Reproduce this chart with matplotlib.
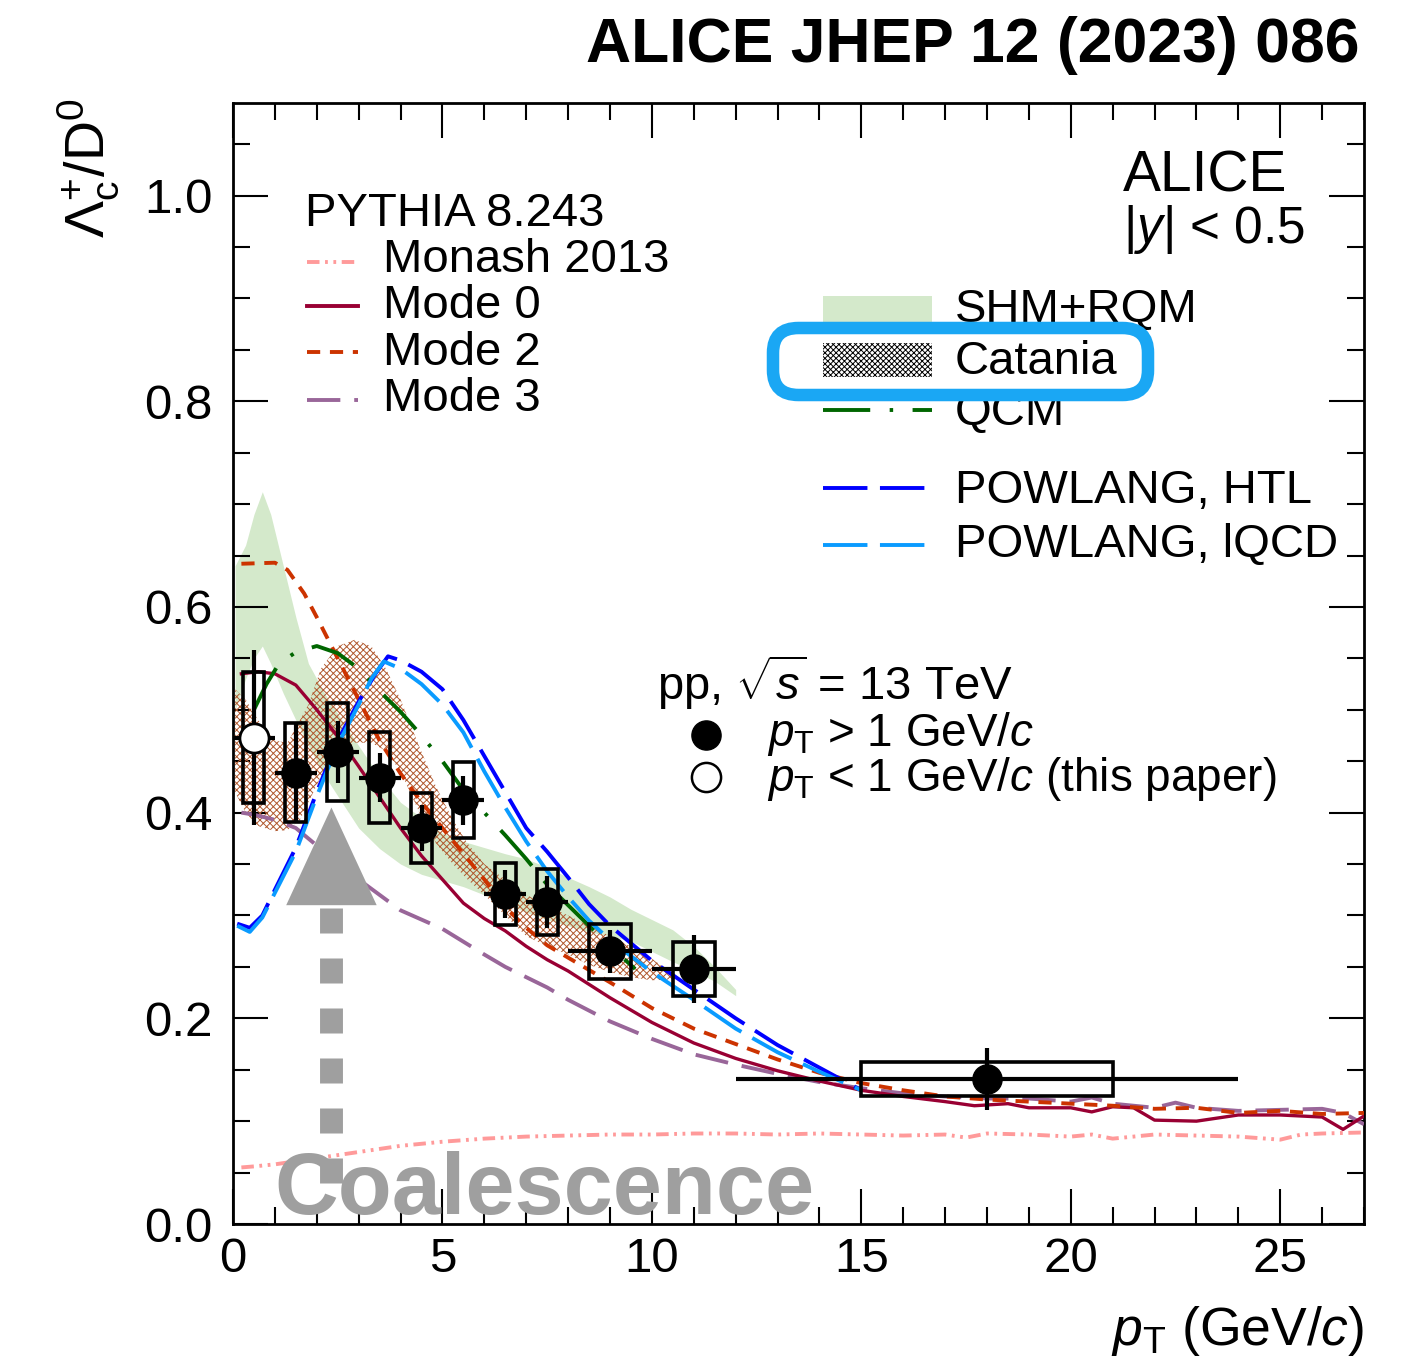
import matplotlib
matplotlib.use("Agg")
import matplotlib.pyplot as plt
from matplotlib.lines import Line2D
from matplotlib.patches import Rectangle, Polygon, FancyBboxPatch
import numpy as np

plt.rcParams['font.family'] = ['Liberation Sans', 'DejaVu Sans']
plt.rcParams['mathtext.fontset'] = 'custom'
plt.rcParams['mathtext.rm'] = 'Liberation Sans'
plt.rcParams['mathtext.it'] = 'Liberation Sans:italic'
plt.rcParams['lines.scale_dashes'] = False
plt.rcParams['hatch.linewidth'] = 0.7

# ---- data: ALICE points ----
pt_x = [1.5, 2.5, 3.5, 4.5, 5.5, 6.5, 7.5, 9.0, 11.0, 18.0]
pt_xerr = [0.5, 0.5, 0.5, 0.5, 0.5, 0.5, 0.5, 1.0, 1.0, 6.0]
pt_y = [0.439, 0.459, 0.434, 0.385, 0.412, 0.321, 0.313, 0.265, 0.248, 0.141]
pt_stat = [0.047, 0.030, 0.024, 0.022, 0.024, 0.023, 0.025, 0.021, 0.033, 0.030]
pt_syst = [0.048, 0.048, 0.044, 0.034, 0.037, 0.030, 0.032, 0.027, 0.026, 0.017]

low_x = [0.5]
low_xerr = [0.5]
low_y = [0.473]
low_stat = [0.085]
low_syst = [0.064]

# ---- PYTHIA curves ----
monash_x = [0.2, 0.5, 1.0, 1.5, 2.0, 2.5, 3.0, 3.5, 4.0, 4.5, 5.0, 6.0, 7.0, 8.0, 9.0, 10.0,
            11.0, 12.0, 13.0, 14.0, 15.0, 16.0, 17.0, 17.5, 18.0, 19.0, 20.0, 20.5, 21.0,
            22.0, 23.0, 24.0, 25.0, 25.5, 26.0, 27.0]
monash_y = [0.055, 0.056, 0.058, 0.061, 0.064, 0.067, 0.070, 0.073, 0.076, 0.078, 0.080, 0.083,
            0.085, 0.086, 0.087, 0.087, 0.088, 0.088, 0.087, 0.088, 0.087, 0.086, 0.087, 0.084,
            0.088, 0.087, 0.085, 0.087, 0.083, 0.087, 0.086, 0.085, 0.082, 0.087, 0.088, 0.089]

mode0_x = [0.2, 0.6, 1.0, 1.5, 2.0, 2.5, 3.0, 3.5, 4.0, 4.5, 5.0, 5.5, 6.0, 6.5, 7.0, 7.5, 8.0,
           9.0, 10.0, 11.0, 12.0, 13.0, 14.0, 15.0, 16.0, 17.0, 17.7, 18.5, 19.0, 20.0, 20.5,
           21.0, 21.5, 22.0, 23.0, 24.0, 25.0, 26.0, 26.5, 27.0]
mode0_y = [0.535, 0.537, 0.535, 0.524, 0.500, 0.474, 0.445, 0.415, 0.385, 0.358, 0.335, 0.312,
           0.297, 0.285, 0.270, 0.257, 0.246, 0.220, 0.196, 0.176, 0.161, 0.149, 0.139, 0.130,
           0.124, 0.119, 0.115, 0.117, 0.113, 0.113, 0.109, 0.114, 0.113, 0.101, 0.100, 0.106,
           0.106, 0.104, 0.092, 0.105]

mode2_x = [0.2, 1.0, 1.3, 1.7, 2.0, 2.5, 3.0, 3.5, 4.0, 4.5, 5.0, 5.5, 6.0, 6.5, 7.0, 7.5, 8.0,
           9.0, 10.0, 10.5, 11.0, 12.0, 13.0, 14.0, 15.0, 16.0, 17.0, 18.0, 19.0, 20.0, 21.0,
           22.0, 23.0, 24.0, 25.0, 26.0, 27.0]
mode2_y = [0.642, 0.643, 0.636, 0.613, 0.590, 0.550, 0.510, 0.470, 0.438, 0.410, 0.385, 0.360,
           0.335, 0.308, 0.288, 0.271, 0.259, 0.235, 0.210, 0.200, 0.190, 0.175, 0.160, 0.147,
           0.137, 0.130, 0.124, 0.121, 0.119, 0.117, 0.115, 0.112, 0.113, 0.108, 0.110, 0.107,
           0.108]

mode3_x = [0.2, 0.5, 1.0, 1.5, 2.0, 2.5, 3.0, 3.5, 4.0, 5.0, 6.0, 6.5, 7.0, 7.5, 8.0, 9.0, 10.0,
           11.0, 12.0, 13.0, 14.0, 15.0, 16.0, 17.0, 18.0, 19.0, 20.0, 20.5, 21.0, 22.0, 22.5,
           23.0, 24.0, 25.0, 26.0, 26.5, 27.0]
mode3_y = [0.400, 0.398, 0.393, 0.385, 0.368, 0.350, 0.335, 0.320, 0.305, 0.287, 0.262, 0.250,
           0.240, 0.230, 0.218, 0.197, 0.180, 0.165, 0.155, 0.146, 0.138, 0.132, 0.127, 0.124,
           0.122, 0.122, 0.119, 0.123, 0.117, 0.113, 0.118, 0.113, 0.110, 0.111, 0.112, 0.108,
           0.097]

# ---- transport / SHM models ----
shm_x = [0.05, 0.3, 0.5, 0.7, 0.9, 1.2, 1.5, 1.8, 2.2, 2.6, 3.0, 3.5, 4.0, 4.5, 5.0, 5.5, 6.0,
         6.5, 7.0, 7.5, 8.0, 8.5, 9.0, 9.5, 10.0, 10.5, 11.0, 11.5, 12.0]
shm_hi = [0.640, 0.660, 0.690, 0.712, 0.690, 0.640, 0.590, 0.545, 0.515, 0.490, 0.465, 0.435,
          0.410, 0.395, 0.380, 0.372, 0.366, 0.360, 0.355, 0.347, 0.337, 0.328, 0.318, 0.306,
          0.296, 0.286, 0.270, 0.250, 0.228]
shm_lo = [0.500, 0.530, 0.550, 0.562, 0.545, 0.516, 0.490, 0.465, 0.435, 0.410, 0.385, 0.365,
          0.350, 0.340, 0.334, 0.328, 0.320, 0.312, 0.303, 0.296, 0.290, 0.284, 0.280, 0.275,
          0.265, 0.255, 0.246, 0.236, 0.222]

cat_x = [0.05, 0.3, 0.6, 1.0, 1.3, 1.6, 1.8, 2.1, 2.5, 2.9, 3.3, 3.65, 4.0, 4.45, 4.85, 5.25,
         5.6, 6.0, 6.5, 7.0, 7.5, 8.0, 8.5, 9.0, 9.5, 10.0, 10.6]
cat_hi = [0.520, 0.510, 0.490, 0.470, 0.468, 0.490, 0.505, 0.540, 0.562, 0.568, 0.562, 0.540,
          0.510, 0.464, 0.425, 0.393, 0.370, 0.350, 0.335, 0.320, 0.310, 0.300, 0.290, 0.280,
          0.270, 0.258, 0.240]
cat_lo = [0.420, 0.400, 0.387, 0.382, 0.383, 0.393, 0.410, 0.435, 0.455, 0.468, 0.468, 0.460,
          0.440, 0.400, 0.370, 0.350, 0.335, 0.320, 0.300, 0.280, 0.270, 0.262, 0.252, 0.245,
          0.240, 0.237, 0.238]

qcm_x = [0.5, 0.8, 1.1, 1.5, 2.0, 2.5, 3.0, 3.5, 4.0, 4.5, 5.0, 5.5, 6.0, 6.5, 7.0, 7.5, 8.0,
         8.5, 9.0, 9.6]
qcm_y = [0.500, 0.525, 0.545, 0.556, 0.562, 0.555, 0.540, 0.518, 0.498, 0.475, 0.450, 0.422,
         0.400, 0.378, 0.355, 0.330, 0.310, 0.290, 0.270, 0.248]

htl_x = [0.1, 0.4, 0.7, 1.0, 1.5, 2.0, 2.5, 3.0, 3.4, 3.7, 4.0, 4.5, 5.0, 5.5, 6.0, 6.5, 7.0,
         7.5, 8.0, 8.5, 9.0, 10.0, 11.0, 12.0, 13.0, 14.0, 15.0]
htl_y = [0.292, 0.288, 0.300, 0.325, 0.366, 0.420, 0.470, 0.508, 0.535, 0.552, 0.548, 0.537,
         0.520, 0.490, 0.455, 0.420, 0.385, 0.362, 0.337, 0.311, 0.290, 0.256, 0.228, 0.200,
         0.174, 0.152, 0.130]

lqcd_x = [0.1, 0.4, 0.7, 1.0, 1.5, 2.0, 2.5, 3.0, 3.3, 3.6, 4.0, 4.5, 5.0, 5.5, 6.0, 6.5, 7.0,
          7.5, 8.0, 8.5, 9.0, 10.0, 11.0, 12.0, 13.0, 14.0, 15.0]
lqcd_y = [0.290, 0.284, 0.298, 0.322, 0.362, 0.416, 0.466, 0.505, 0.530, 0.547, 0.540, 0.525,
          0.505, 0.478, 0.440, 0.405, 0.372, 0.343, 0.318, 0.295, 0.276, 0.245, 0.218, 0.190,
          0.167, 0.148, 0.130]

# ---- colours ----
c_monash = '#ff9a9a'
c_mode0 = '#990033'
c_mode2 = '#cc3300'
c_mode3 = '#996699'
c_qcm = '#006600'
c_htl = '#0000ff'
c_lqcd = '#0a9bff'
c_shm = '#d4e9cb'
c_cat = '#b0582e'
c_gray = '#9f9f9f'

W, H = 1419, 1372
fig = plt.figure(figsize=(W / 100, H / 100), dpi=100)
ax = fig.add_axes([233 / W, 1 - 1224 / H, (1364 - 233) / W, (1224 - 103) / H])


def P(x, y):
    # pixel position -> figure fraction
    return x / W, 1 - y / H


# bands
ax.fill_between(shm_x, shm_lo, shm_hi, color=c_shm, lw=0, zorder=1)
ax.fill_between(cat_x, cat_lo, cat_hi, facecolor='none', edgecolor=c_cat, hatch='xxxxx',
                lw=0, zorder=2)

# curves
lw = 2.8
ax.plot(monash_x, monash_y, color=c_monash, lw=lw, dashes=(9, 4, 2, 4, 2, 4), zorder=3)
ax.plot(mode3_x, mode3_y, color=c_mode3, lw=lw, dashes=(24, 10), zorder=3)
ax.plot(mode0_x, mode0_y, color=c_mode0, lw=2.4, zorder=3)
ax.plot(mode2_x, mode2_y, color=c_mode2, lw=lw, dashes=(9.5, 7), zorder=3)
ax.plot(qcm_x, qcm_y, color=c_qcm, lw=lw, dashes=(34, 14, 2.5, 14), zorder=3)
ax.plot(htl_x, htl_y, color=c_htl, lw=lw, dashes=(32, 9), zorder=3)
ax.plot(lqcd_x, lqcd_y, color=c_lqcd, lw=lw, dashes=(32, 9), zorder=3)

# data: syst boxes + stat errors
for x, xe, y, s in zip(pt_x + low_x, pt_xerr + low_xerr, pt_y + low_y, pt_syst + low_syst):
    ax.add_patch(Rectangle((x - xe / 2, y - s), xe, 2 * s, fill=False, ec='black', lw=2.6,
                           zorder=5))
ax.errorbar(pt_x, pt_y, xerr=pt_xerr, yerr=pt_stat, fmt='o', ms=21, color='black',
            elinewidth=3, capsize=0, zorder=6)
ax.errorbar(low_x, low_y, xerr=low_xerr, yerr=low_stat, fmt='o', ms=21, mfc='white',
            mec='black', mew=2, color='black', elinewidth=3, capsize=0, zorder=6)

# coalescence arrow
arr_x, arr_base, arr_tip, arr_half = 2.35, 0.31, 0.405, 1.08
ax.add_patch(Polygon([[arr_x - arr_half, arr_base], [arr_x + arr_half, arr_base],
                      [arr_x, arr_tip]], closed=True, color=c_gray, lw=0, zorder=7))
ax.plot([arr_x, arr_x], [0.04, arr_base], color=c_gray, lw=16.5, solid_capstyle='butt',
        dashes=(18, 18), zorder=7)
ax.text(0.98, 0.01, 'Coalescence', fontsize=63.5, fontweight='bold', color=c_gray,
        ha='left', va='baseline', zorder=8)

# axes style
ax.set_xlim(0, 27)
ax.set_ylim(0, 1.09)
ax.set_xticks(np.arange(0, 26, 5))
ax.set_xticks(np.arange(0, 28, 1), minor=True)
ax.set_yticks(np.arange(0, 1.01, 0.2))
ax.set_yticks(np.arange(0, 1.09, 0.05), minor=True)
ax.set_yticklabels(['0.0', '0.2', '0.4', '0.6', '0.8', '1.0'])
ax.tick_params(which='both', direction='in', top=True, right=True, width=1.5,
               labelsize=35.5)
ax.tick_params(which='major', length=25)
ax.tick_params(which='minor', length=12)
ax.tick_params(axis='x', pad=9)
ax.tick_params(axis='y', pad=15)
for s in ax.spines.values():
    s.set_linewidth(2)

fig.text(*P(1364, 1345), r'$p_{\rm T}$ (GeV/$c$)', fontsize=38.5, ha='right', va='baseline')
fig.text(*P(121, 98), r'$\Lambda_{\rm c}^{+}$/D$^{0}$', fontsize=40, rotation=90,
         ha='right', va='top')
fig.text(*P(1360, 62), 'ALICE JHEP 12 (2023) 086', fontsize=45, fontweight='bold',
         ha='right', va='baseline')
fig.text(*P(1123, 192), 'ALICE', fontsize=41, ha='left', va='baseline')
fig.text(*P(1123, 243), r'|$y$| < 0.5', fontsize=37, ha='left', va='baseline')

# PYTHIA legend
fs = 34
fig.text(*P(305, 226), 'PYTHIA 8.243', fontsize=fs, ha='left', va='baseline')
pyth = [('Monash 2013', c_monash, (9, 4, 2, 4, 2, 4), 272, 262),
        ('Mode 0', c_mode0, None, 318, 306),
        ('Mode 2', c_mode2, (9.5, 7), 365, 352),
        ('Mode 3', c_mode3, (24, 10), 411, 400)]
for lab, col, ds, yb, yl in pyth:
    ln = Line2D([307 / W, 358 / W], [1 - yl / H] * 2, color=col, lw=lw,
                transform=fig.transFigure)
    if ds:
        ln.set_dashes(ds)
    fig.add_artist(ln)
    fig.text(*P(383, yb), lab, fontsize=fs, ha='left', va='baseline')

# model legend
x0, x1 = 823, 932
fig.add_artist(Rectangle(P(x0, 322), (x1 - x0) / W, 26 / H, color=c_shm, lw=0,
                         transform=fig.transFigure))
fig.add_artist(Rectangle(P(x0, 377), (x1 - x0) / W, 34 / H, facecolor='white',
                         edgecolor='black', hatch='xxxxxx', lw=0,
                         transform=fig.transFigure))
for yl, col, ds in [(410, c_qcm, (34, 14, 2.5, 14)), (488, c_htl, (32, 9)),
                    (545, c_lqcd, (32, 9))]:
    fig.add_artist(Line2D([x0 / W, x1 / W], [1 - yl / H] * 2, color=col, lw=lw,
                          dashes=ds, transform=fig.transFigure))
for lab, yb in [('SHM+RQM', 322), ('Catania', 374), ('QCM', 425),
                ('POWLANG, HTL', 503), ('POWLANG, lQCD', 557)]:
    fig.text(*P(955, yb), lab, fontsize=fs, ha='left', va='baseline')

# data legend
fig.text(*P(657, 700), r'pp, $\sqrt{s}$ = 13 TeV', fontsize=fs, ha='left', va='baseline')
fig.add_artist(Line2D([706 / W], [1 - 735 / H], marker='o', ms=21, color='black', lw=0,
                      transform=fig.transFigure))
fig.add_artist(Line2D([706 / W], [1 - 777 / H], marker='o', ms=21, mfc='white',
                      mec='black', mew=1.8, lw=0, transform=fig.transFigure))
fig.text(*P(767, 746), r'$p_{\rm T}$ > 1 GeV/$c$', fontsize=33, ha='left', va='baseline')
fig.text(*P(767, 791), r'$p_{\rm T}$ < 1 GeV/$c$ (this paper)', fontsize=33, ha='left',
         va='baseline')

# hand-drawn highlight around the Catania entry
hx0, hy0 = P(773, 395)
hx1, hy1 = P(1148, 328)
fig.add_artist(FancyBboxPatch((hx0, hy0), hx1 - hx0, hy1 - hy0,
                              boxstyle='round,pad=0,rounding_size=0.018',
                              fc='none', ec='#1aa7f4', lw=9, transform=fig.transFigure,
                              zorder=10))

fig.savefig('out.png', dpi=100)
